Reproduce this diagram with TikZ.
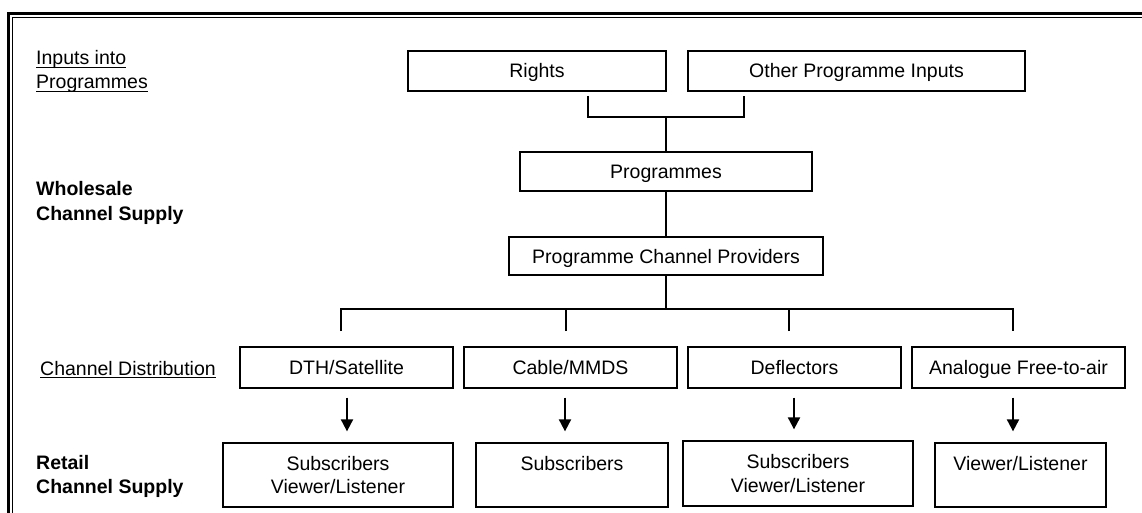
\documentclass[tikz,border=0pt]{standalone}
\usepackage{fontspec}
\setmainfont{Liberation Sans}
\usetikzlibrary{arrows.meta}
\newcommand\myul[1]{\setbox0\hbox{#1}\rlap{\rule[-3pt]{\wd0}{1.3pt}}\box0}
\begin{document}
\begin{tikzpicture}[x=1pt,y=-1pt,
  font=\fontsize{19.5}{23.5}\selectfont,
  box/.style={draw, line width=1.3pt, inner sep=0pt, align=center},
  one/.style={text height=14pt, text depth=0pt},
  conn/.style={line width=2pt},
  arr/.style={line width=2pt, -{Triangle[width=12pt,length=12pt]}},
  lbl/.style={anchor=base west, inner sep=0pt},
  bold/.style={font=\fontsize{19.5}{23.5}\selectfont\bfseries}]
\useasboundingbox (0,0) rectangle (1142,513);
% frame
\draw[line width=3.5pt] (8.5,513) -- (8.5,13.5) -- (1142,13.5);
\draw[line width=1.2pt] (12.5,513) -- (12.5,17.5) -- (1142,17.5);
% row labels
\node[lbl] (l1a) at (36,65) {\myul{Inputs into}};
\node[lbl] (l1b) at (36,89) {\myul{Programmes}};
\node[lbl,bold] (l2a) at (36,196) {Wholesale};
\node[lbl,bold] (l2b) at (36,220) {Channel Supply};
\node[lbl] (l3) at (40,375) {\myul{Channel Distribution}};
\node[lbl,bold] (l4a) at (36,469) {Retail};
\node[lbl,bold] (l4b) at (36,493) {Channel Supply};
% top boxes
\node[box,one,minimum width=258pt,minimum height=40pt] (rights) at (537,71) {Rights};
\node[box,one,minimum width=337pt,minimum height=40pt] (other) at (856.5,71) {Other Programme Inputs};
\node[box,one,minimum width=292pt,minimum height=39pt] (prog) at (666,171.5) {Programmes};
\node[box,one,minimum width=314pt,minimum height=38pt] (pcp) at (666,256) {Programme Channel Providers};
% bracket
\coordinate (bl) at (588,96);
\coordinate (br) at (744,96);
\coordinate (bm) at (666,117);
\draw[conn] (bl) |- (bm) -| (br);
\draw[conn] (bm) -- (prog.north);
\draw[conn] (prog.south) -- (pcp.north);
% distribution boxes
\node[box,one,minimum width=213pt,minimum height=41pt] (dth) at (346.5,367.5) {DTH/Satellite};
\node[box,one,minimum width=213pt,minimum height=41pt] (cable) at (570.5,367.5) {Cable/MMDS};
\node[box,one,minimum width=213pt,minimum height=41pt] (defl) at (794.5,367.5) {Deflectors};
\node[box,one,minimum width=213pt,minimum height=41pt] (ana) at (1018.5,367.5) {Analogue Free-to-air};
% bus
\coordinate (bus) at (666,309);
\coordinate (d1) at (341,331);
\coordinate (d2) at (566,331);
\coordinate (d3) at (789,331);
\coordinate (d4) at (1013,331);
\draw[conn] (pcp.south) -- (bus);
\draw[conn] (d1) -- (d1|-bus) -- (d4|-bus) -- (d4);
\draw[conn] (d2) -- (d2|-bus);
\draw[conn] (d3) -- (d3|-bus);
% retail boxes
\node[box,minimum width=230pt,minimum height=64pt] (sub1) at (338,475) {Subscribers\\Viewer/Listener};
\node[box,minimum width=192pt,minimum height=64pt] (sub2) at (572,475) {Subscribers\\\mbox{}};
\node[box,minimum width=230pt,minimum height=65pt] (sub3) at (798,473.5) {Subscribers\\Viewer/Listener};
\node[box,minimum width=171pt,minimum height=64pt] (view) at (1020.5,475) {Viewer/Listener\\\mbox{}};
% arrows
\draw[arr,shorten <=9pt,shorten >=11pt] ([xshift=0.5pt]dth.south) -- ([xshift=0.5pt]dth.south |- sub1.north);
\draw[arr,shorten <=9pt,shorten >=11pt] ([xshift=-5.5pt]cable.south) -- ([xshift=-5.5pt]cable.south |- sub2.north);
\draw[arr,shorten <=9pt,shorten >=11pt] ([xshift=-0.5pt]defl.south) -- ([xshift=-0.5pt]defl.south |- sub3.north);
\draw[arr,shorten <=9pt,shorten >=11pt] ([xshift=-5.5pt]ana.south) -- ([xshift=-5.5pt]ana.south |- view.north);
\end{tikzpicture}
\end{document}
